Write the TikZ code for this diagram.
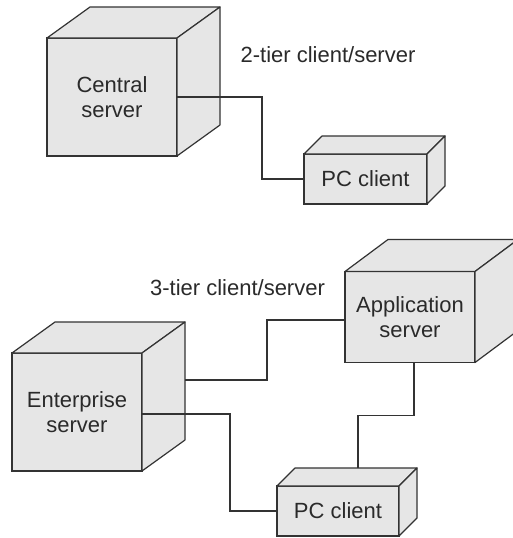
\documentclass[tikz,border=0pt]{standalone}
\usepackage{fontspec}
\setmainfont{Liberation Sans}
\usetikzlibrary{calc}
\definecolor{facefill}{HTML}{E6E6E6}
\definecolor{edge}{HTML}{333333}
\definecolor{txt}{HTML}{2A2A2A}
\tikzset{
  front/.style={draw=edge, fill=facefill, line width=1.2pt, inner sep=0pt, outer sep=0pt,
    align=center, text=txt, font=\fontsize{22}{25.5}\selectfont},
  face/.style={draw=edge, fill=facefill, line width=1.2pt, line join=round},
  conn/.style={draw=edge, line width=1.1pt},
  lbl/.style={text=txt, font=\fontsize{22}{25.5}\selectfont, inner sep=0pt}
}
\newcommand\boxdepth[2]{%
  \draw[face] (#1.north west) -- ++(#2) -- ($(#1.north east)+(#2)$) -- (#1.north east) -- cycle;
  \draw[face] (#1.north east) -- ++(#2) -- ($(#1.south east)+(#2)$) -- (#1.south east) -- cycle;
}
\begin{document}
\begin{tikzpicture}[x=1pt,y=-1pt]
\clip (0,0) rectangle (513,538);
\fill[white] (0,0) rectangle (513,538);
% boxes
\node[front, minimum width=130pt, minimum height=118pt] (cs) at (112,97) {Central\\server};
\boxdepth{cs}{43,-31}
\node[front, minimum width=123pt, minimum height=50pt] (pc1) at (365.5,179) {PC client};
\boxdepth{pc1}{18,-18}
\node[front, minimum width=130pt, minimum height=118pt] (es) at (77,412) {Enterprise\\server};
\boxdepth{es}{43,-31}
\node[front, minimum width=130pt, minimum height=91pt] (as) at (410,317) {Application\\server};
\boxdepth{as}{43,-32}
\node[front, minimum width=122pt, minimum height=50pt] (pc2) at (338,511) {PC client};
\boxdepth{pc2}{18,-18}
% labels
\node[lbl] (t2) at (328,55) {2-tier client/server};
\node[lbl] (t3) at (237.5,288) {3-tier client/server};
% connectors
\coordinate (j1) at (262,0);
\draw[conn] (cs.east) -- (cs.east -| j1) |- (pc1.west);
\coordinate (esb) at ($(es.east)+(43,-32)$);
\draw[conn] (esb) -- ++(82,0) |- ([yshift=-3pt]as.west);
\coordinate (j3) at (230,0);
\draw[conn] ([yshift=-2pt]es.east) -- ([yshift=-2pt]es.east -| j3) |- (pc2.west);
\coordinate (pc2t) at ($(pc2.north)+(20,-18)$);
\draw[conn] ([xshift=4pt]as.south) -- ++(0,53) -| (pc2t);
\end{tikzpicture}
\end{document}
